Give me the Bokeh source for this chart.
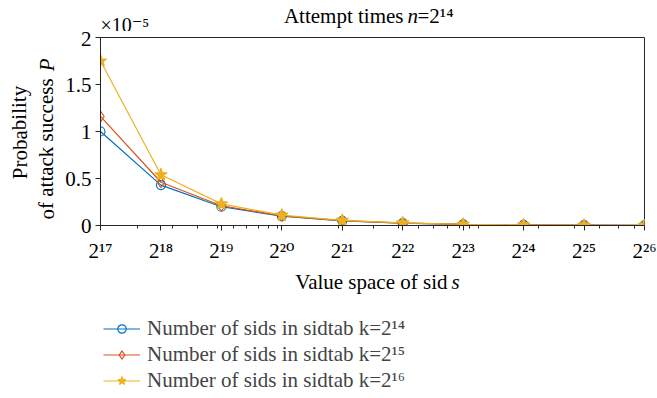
from bokeh.plotting import figure
from bokeh.layouts import column, row
from bokeh.models import Range1d, FixedTicker, Label, Legend, LegendItem
from bokeh.embed import file_html
from bokeh.resources import INLINE

# ---- data (y in units of 1e-5) ----
exponents = [17, 18, 19, 20, 21, 22, 23, 24, 25, 26]
s_values = [2 ** e for e in exponents]
p_k14 = [1.00, 0.43, 0.20, 0.100, 0.050, 0.025, 0.0125, 0.0062, 0.0031, 0.0016]
p_k15 = [1.16, 0.46, 0.21, 0.103, 0.051, 0.026, 0.0128, 0.0064, 0.0032, 0.0016]
p_k16 = [1.75, 0.54, 0.23, 0.110, 0.054, 0.027, 0.0134, 0.0066, 0.0033, 0.0017]
series = [p_k14, p_k15, p_k16]
series_labels = ["Number of sids in sidtab k=2\u00b9\u2074",
                 "Number of sids in sidtab k=2\u00b9\u2075",
                 "Number of sids in sidtab k=2\u00b9\u2076"]
y_ticks = [0, 0.5, 1, 1.5, 2]
y_tick_labels = ["0", "0.5", "1", "1.5", "2"]

SUP = str.maketrans("0123456789-", "\u2070\u00b9\u00b2\u00b3\u2074\u2075\u2076\u2077\u2078\u2079\u207b")
def sup(t):
    return str(t).translate(SUP)

FONT = "Liberation Serif, DejaVu Serif"
FS = "21px"
AX = "#262626"
colors = ["#0072BD", "#D95319", "#EDB120"]
markers = ["circle", "diamond", "star"]
sizes = [9, 11, 13]
fills = [None, None, colors[2]]

TOP_H = 31          # title strip
MID_H = 234         # plot row (border top 6, frame 188, border bottom 40)
BOT_H = 398 - TOP_H - MID_H


def helper(w, h, **kw):
    f = figure(width=w, height=h, output_backend="svg", toolbar_location=None,
               min_border=0, x_axis_location=None, y_axis_location=None,
               x_range=Range1d(0, 1), y_range=Range1d(0, 1), **kw)
    f.grid.visible = False
    f.outline_line_color = None
    f.background_fill_color = "white"
    f.border_fill_color = "white"
    return f


def lab(fig, text, x, y, align="left", italic=False, size=FS, angle=0, baseline="alphabetic"):
    fig.add_layout(Label(x=x, y=y, x_units="screen", y_units="screen", text=text,
                         text_font=FONT, text_font_size=size, text_align=align,
                         text_baseline=baseline, angle=angle,
                         text_font_style="italic" if italic else "normal", text_color="black"))


# ---- main plot ----
p = figure(width=597, height=MID_H, output_backend="svg", toolbar_location=None,
           x_axis_type="log",
           x_range=Range1d(2 ** 17, 2 ** 26), y_range=Range1d(0, 2),
           min_border_left=40, min_border_right=13, min_border_top=6, min_border_bottom=40)
p.grid.visible = False
p.outline_line_color = AX
p.outline_line_width = 1
p.background_fill_color = "white"
p.border_fill_color = "white"

minor = [m * 10 ** d for d in range(5, 9) for m in range(1, 10) if 2 ** 17 < m * 10 ** d < 2 ** 26]
p.xaxis.ticker = FixedTicker(ticks=s_values, minor_ticks=minor)
p.xaxis.major_label_overrides = {s: "2" + sup(e) for s, e in zip(s_values, exponents)}
p.yaxis.ticker = FixedTicker(ticks=y_ticks, minor_ticks=[])
p.yaxis.major_label_overrides = {t: l for t, l in zip(y_ticks, y_tick_labels)}

for ax in (p.xaxis[0], p.yaxis[0]):
    ax.axis_line_color = AX
    ax.major_tick_line_color = AX
    ax.minor_tick_line_color = AX
    ax.major_tick_in = 0
    ax.major_tick_out = 5
    ax.minor_tick_in = 0
    ax.minor_tick_out = 3
    ax.major_label_text_font = FONT
    ax.major_label_text_font_size = FS
    ax.major_label_text_color = "black"
p.xaxis.major_label_standoff = 8
p.yaxis.major_label_standoff = 4

for ys, c, m, sz, f in zip(series, colors, markers, sizes, fills):
    p.line(s_values, ys, line_color=c, line_width=1.2)
    p.scatter(s_values, ys, marker=m, size=sz, line_color=c, fill_color=f, line_width=1.2)

# ---- top strip: title and exponent ----
top = helper(657, TOP_H)
lab(top, "Attempt times", 403, 16, align="right")
lab(top, "n", 407, 16, italic=True)
lab(top, "=2" + sup(14), 417, 16)
lab(top, "\u00d710" + sup(-5), 100, 7, size="20px")

# ---- left strip: y label (frame aligned with the main plot frame) ----
left = helper(60, MID_H)
left.min_border_top = 6
left.min_border_bottom = 40
lab(left, "Probability", 19, 93, align="center", angle=1.5708)
lab(left, "of attack success", 46, 6, align="left", angle=1.5708)
lab(left, "P", 46, 167, align="right", italic=True, angle=1.5708)

# ---- bottom strip: x label and legend ----
bottom = helper(657, BOT_H)
lab(bottom, "Value space of sid", 447, 117, align="right")
lab(bottom, "s", 451, 117, italic=True)

items = []
for ys, c, m, sz, f, labtxt in zip(series, colors, markers, sizes, fills, series_labels):
    # drawn outside this strip's visible range; used only as legend swatches
    lr = bottom.line(s_values, ys, line_color=c, line_width=1.2)
    sr = bottom.scatter(s_values, ys, marker=m, size=sz, line_color=c, fill_color=f, line_width=1.2)
    items.append(LegendItem(label=labtxt, renderers=[lr, sr]))
legend = Legend(items=items, location=(103, 5), label_text_font=FONT, label_text_font_size=FS,
                glyph_width=37, glyph_height=21, label_height=21, label_standoff=7, spacing=1,
                padding=0, margin=0, border_line_color=None, background_fill_alpha=0)
bottom.add_layout(legend)

layout = column(top, row(left, p), bottom)
open("out.html", "w").write(file_html(layout, INLINE))
